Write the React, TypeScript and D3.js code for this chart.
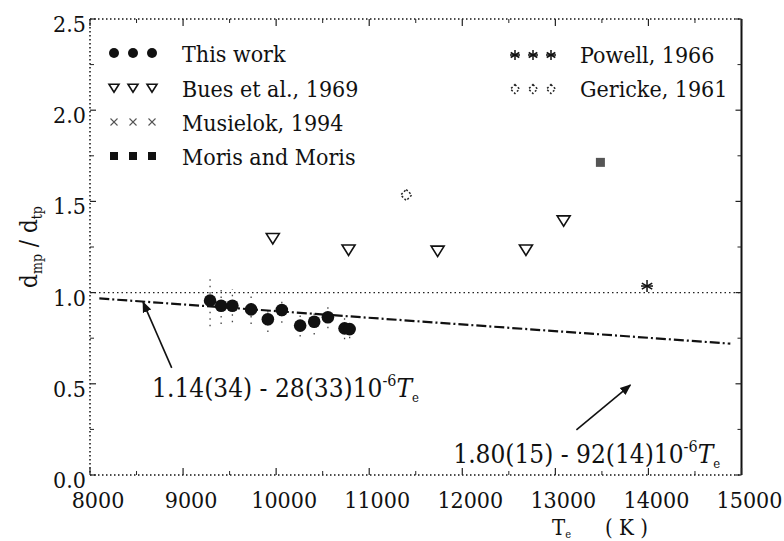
import React from "react";
import * as d3 from "d3";

// ---- data ----
const thisWorkT = [9290, 9409, 9530, 9731, 9911, 10061, 10258, 10409, 10556, 10735, 10790];
const thisWorkD = [0.956, 0.928, 0.928, 0.908, 0.854, 0.905, 0.819, 0.84, 0.865, 0.804, 0.8];
const thisWorkErr = [0.14, 0.1, 0.09, 0.08, 0.07, 0.07, 0.06, 0.07, 0.06, 0.06, 0.05];
const buesT = [9964, 10778, 11735, 12684, 13089];
const buesD = [1.297, 1.234, 1.228, 1.234, 1.394];
const gerickeT = [11398];
const gerickeD = [1.535];
const powellT = [13985];
const powellD = [1.036];
const morisT = [13484];
const morisD = [1.714];
const fitT = [8100, 14880];
const fitD = [0.968, 0.72];
const refLineD = 1.0;
const xTickValues = [8000, 9000, 10000, 11000, 12000, 13000, 14000, 15000];
const xMinorTicks = [8500, 9500, 10500, 11500, 12500, 13500, 14500];
const yTickValues = [0, 0.5, 1.0, 1.5, 2.0, 2.5];
const yMinorTicks = [0.25, 0.75, 1.25, 1.75, 2.25];
const legendLeft = ["This work", "Bues et al., 1969", "Musielok, 1994", "Moris and Moris"];
const legendRight = ["Powell, 1966", "Gericke, 1961"];
const annot1 = { t: 8667, d: 0.428, text: "1.14(34) - 28(33)10", sup: "-6" };
const annot2 = { t: 11903, d: 0.066, text: "1.80(15) - 92(14)10", sup: "-6" };
const arrow1 = { t0: 8878, d0: 0.587, t1: 8570, d1: 0.948 };
const arrow2 = { t0: 13226, d0: 0.247, t1: 13806, d1: 0.493 };

const FONT = "DejaVu Serif";

const x = d3.scaleLinear().domain([8000, 15000]).range([90, 741.5]);
const y = d3.scaleLinear().domain([0, 2.5]).range([475, 19]);

function TriDown({ cx, cy, s = 6 }: { cx: number; cy: number; s?: number }) {
  const p = `M${cx - s},${cy - s * 0.75}L${cx + s},${cy - s * 0.75}L${cx},${cy + s * 0.85}Z`;
  return <path d={p} fill="white" stroke="#111" strokeWidth={1.6} />;
}
function Star({ cx, cy, s = 6 }: { cx: number; cy: number; s?: number }) {
  const angs = [90, 30, 150, 0];
  return (
    <g stroke="#111" strokeWidth={1.5}>
      {angs.map((a, i) => {
        const r = (a * Math.PI) / 180;
        const dx = Math.cos(r) * s, dy = Math.sin(r) * s;
        return <line key={i} x1={cx - dx} y1={cy - dy} x2={cx + dx} y2={cy + dy} />;
      })}
    </g>
  );
}
function Diamond({ cx, cy, s = 6 }: { cx: number; cy: number; s?: number }) {
  const p = `M${cx},${cy - s}L${cx + s},${cy}L${cx},${cy + s}L${cx - s},${cy}Z`;
  return <path d={p} fill="none" stroke="#222" strokeWidth={1.5} strokeDasharray="2,2" />;
}
function Cross({ cx, cy, s = 4 }: { cx: number; cy: number; s?: number }) {
  return (
    <g stroke="#555" strokeWidth={1.1}>
      <line x1={cx - s} y1={cy - s} x2={cx + s} y2={cy + s} />
      <line x1={cx - s} y1={cy + s} x2={cx + s} y2={cy - s} />
    </g>
  );
}

export default function App() {
  const line = d3.line<number>().x((_, i) => x(fitT[i])).y((d) => y(d));
  const x0 = x(8000), x1 = x(15000), y0 = y(0), y1 = y(2.5);
  const dotted = { stroke: "#111", strokeWidth: 1.5, strokeDasharray: "1.5,2.5" };

  const legX = [114, 133, 152];
  const legY = [53, 88, 122, 156];
  const legRX = [515, 533, 551];
  const legRY = [55, 89];
  const tx = { fontFamily: FONT, fontStretch: "condensed" } as React.CSSProperties;

  return (
    <svg width={784} height={541} style={{ position: "absolute", left: 0, top: 0, background: "white" }}>
      <defs>
        <marker id="ah" viewBox="0 0 10 10" refX="9" refY="5" markerWidth="7" markerHeight="7" orient="auto">
          <path d="M0,1L10,5L0,9Z" fill="#111" />
        </marker>
      </defs>
      {/* frame */}
      <line x1={x0} y1={y0} x2={x1} y2={y0} {...dotted} />
      <line x1={x0} y1={y1} x2={x1} y2={y1} {...dotted} />
      <line x1={x0} y1={y1} x2={x0} y2={y0} {...dotted} />
      <line x1={x1} y1={y1} x2={x1} y2={y0} stroke="#111" strokeWidth={2} />
      {/* x ticks */}
      {xTickValues.map((t) => (
        <g key={"xt" + t}>
          <line x1={x(t)} x2={x(t)} y1={y0} y2={y0 - 7} stroke="#222" strokeWidth={1.2} />
          <line x1={x(t)} x2={x(t)} y1={y1} y2={y1 + 7} stroke="#222" strokeWidth={1.2} />
          <text style={tx} x={x(t) + 8} y={y0 + 33} fontSize={23} textAnchor="middle" fill="#111">{t}</text>
        </g>
      ))}
      {xMinorTicks.map((t) => (
        <g key={"xm" + t}>
          <line x1={x(t)} x2={x(t)} y1={y0} y2={y0 - 4} stroke="#222" strokeWidth={1} />
          <line x1={x(t)} x2={x(t)} y1={y1} y2={y1 + 4} stroke="#222" strokeWidth={1} />
        </g>
      ))}
      {yTickValues.map((v) => (
        <g key={"yt" + v}>
          <line x1={x0} x2={x0 + 6} y1={y(v)} y2={y(v)} stroke="#222" strokeWidth={1.2} />
          <line x1={x1} x2={x1 - 6} y1={y(v)} y2={y(v)} stroke="#222" strokeWidth={1.2} />
          <text style={tx} x={86} y={y(v) + 13} fontSize={23} textAnchor="end" fill="#111">{v.toFixed(1)}</text>
        </g>
      ))}
      {yMinorTicks.map((v) => (
        <g key={"ym" + v}>
          <line x1={x0} x2={x0 + 4} y1={y(v)} y2={y(v)} stroke="#222" strokeWidth={1} />
          <line x1={x1} x2={x1 - 4} y1={y(v)} y2={y(v)} stroke="#222" strokeWidth={1} />
        </g>
      ))}
      {/* axis labels */}
      <text style={tx} transform={`translate(37,${y(1.25)}) rotate(-90)`} fontSize={24} textAnchor="middle" fill="#111">
        d<tspan fontSize={14} dy={5}>mp</tspan><tspan dy={-5}> / d</tspan><tspan fontSize={14} dy={5}>tp</tspan>
      </text>
      <text style={tx} x={552} y={535} fontSize={22} fill="#111">
        T<tspan fontSize={11} dy={3}>e</tspan><tspan dy={-3} dx={34}>( K )</tspan>
      </text>

      {/* reference dotted line */}
      <line x1={x0} x2={x1} y1={y(refLineD)} y2={y(refLineD)} stroke="#222" strokeWidth={1.4} strokeDasharray="1.5,3" />
      {/* fit line */}
      <path d={line(fitD) || ""} fill="none" stroke="#111" strokeWidth={2.2} strokeDasharray="10,3,2,3" />

      {/* error bars */}
      {thisWorkT.map((t, i) => (
        <line key={"e" + i} x1={x(t)} x2={x(t)} y1={y(thisWorkD[i] - thisWorkErr[i])} y2={y(thisWorkD[i] + thisWorkErr[i])}
          stroke="#444" strokeWidth={1.3} strokeDasharray="1.5,5" />
      ))}
      {thisWorkT.map((t, i) => (
        <circle key={"c" + i} cx={x(t)} cy={y(thisWorkD[i])} r={6.3} fill="#111" />
      ))}
      {buesT.map((t, i) => <TriDown key={"b" + i} cx={x(t)} cy={y(buesD[i])} s={6.5} />)}
      {gerickeT.map((t, i) => <Diamond key={"g" + i} cx={x(t)} cy={y(gerickeD[i])} s={5.5} />)}
      {powellT.map((t, i) => <Star key={"p" + i} cx={x(t)} cy={y(powellD[i])} s={6} />)}
      {morisT.map((t, i) => (
        <rect key={"m" + i} x={x(t) - 4.5} y={y(morisD[i]) - 4.5} width={9} height={9} fill="#555" />
      ))}

      {/* annotations */}
      <line x1={x(arrow1.t0)} y1={y(arrow1.d0)} x2={x(arrow1.t1)} y2={y(arrow1.d1)} stroke="#111" strokeWidth={1.6} markerEnd="url(#ah)" />
      <line x1={x(arrow2.t0)} y1={y(arrow2.d0)} x2={x(arrow2.t1)} y2={y(arrow2.d1)} stroke="#111" strokeWidth={1.6} markerEnd="url(#ah)" />
      {[annot1, annot2].map((a, i) => (
        <text style={tx} key={"a" + i} x={x(a.t)} y={y(a.d)} fontSize={26} fill="#111">
          {a.text}
          <tspan fontSize={16} dy={-11}>{a.sup}</tspan>
          <tspan fontStyle="italic" dy={11}>T</tspan>
          <tspan fontSize={13} dy={5}>e</tspan>
        </text>
      ))}

      {/* legend left */}
      {legendLeft.map((lab, i) => (
        <g key={"ll" + i}>
          {legX.map((lx, j) => {
            const cy = legY[i];
            if (i === 0) return <circle key={j} cx={lx} cy={cy} r={5} fill="#111" />;
            if (i === 1) return <TriDown key={j} cx={lx} cy={cy} s={5} />;
            if (i === 2) return <Cross key={j} cx={lx} cy={cy} s={3.5} />;
            return <rect key={j} x={lx - 4} y={cy - 4} width={8} height={8} fill="#111" />;
          })}
          <text style={tx} x={182} y={legY[i] + 9} fontSize={23} fill="#111">{lab}</text>
        </g>
      ))}
      {/* legend right */}
      {legendRight.map((lab, i) => (
        <g key={"lr" + i}>
          {legRX.map((lx, j) =>
            i === 0 ? <Star key={j} cx={lx} cy={legRY[i]} s={5} /> : <Diamond key={j} cx={lx} cy={legRY[i]} s={4.5} />
          )}
          <text style={tx} x={580} y={legRY[i] + 8} fontSize={23} fill="#111">{lab}</text>
        </g>
      ))}
    </svg>
  );
}
